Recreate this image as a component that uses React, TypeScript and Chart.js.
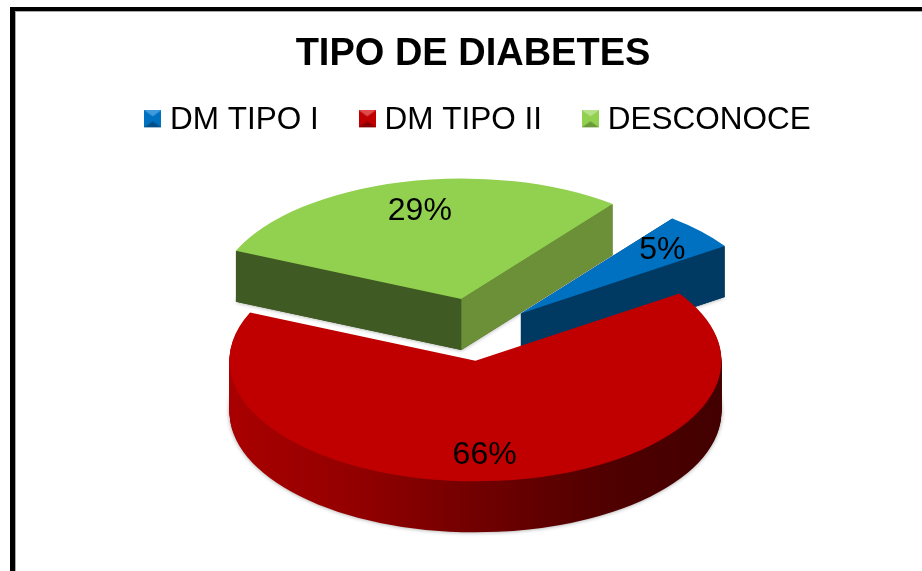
import { useEffect, useRef } from "react";
import { Chart, registerables } from "chart.js";

Chart.register(...registerables);

const categories = ["DM TIPO I", "DM TIPO II", "DESCONOCE"];
const values = [5, 66, 29];
const topColors = ["#0070c0", "#c00000", "#92d050"];
const sideColors = ["#003a63", "#7a0000", "#3f5a22"];
const rightWallColors = ["#003a63", "#5a0000", "#6b9038"];
const titleText = "TIPO DE DIABETES";

const SQUASH = 0.49;
const DEPTH = 51;
const EXPLODE = 60;
const RADIUS = 246;
const sliceNudge = [[7, 2], [0, 0], [6, -4]];
const labelNudge = [[3, 0], [-8, 2], [5, 2]];

function swatch(base: string, light: string, dark: string) {
  const c = document.createElement("canvas");
  c.width = 17;
  c.height = 20;
  const x = c.getContext("2d")!;
  x.fillStyle = base;
  x.fillRect(0, 0, 17, 17);
  x.fillStyle = light;
  x.beginPath();
  x.moveTo(0, 0); x.lineTo(17, 0); x.lineTo(8.5, 6); x.closePath();
  x.fill();
  x.fillStyle = dark;
  x.beginPath();
  x.moveTo(0, 17); x.lineTo(17, 17); x.lineTo(8.5, 11); x.closePath();
  x.fill();
  return c;
}

const pie3d = {
  id: "pie3d",
  afterLayout(chart: any) {
    chart.legend.left += 11;
    chart.legend.right += 11;
    chart.titleBlock.left += 3;
    chart.titleBlock.right += 3;
  },
  beforeDatasetsDraw(chart: any) {
    const arcs = chart.getDatasetMeta(0).data;
    const ctx = chart.ctx;
    const cy = (chart.chartArea.top + chart.chartArea.bottom) / 2;
    const rimGrad = ctx.createLinearGradient(230, 0, 722, 0);
    rimGrad.addColorStop(0, "#a80000");
    rimGrad.addColorStop(0.25, "#920000");
    rimGrad.addColorStop(0.5, "#700000");
    rimGrad.addColorStop(0.75, "#500000");
    rimGrad.addColorStop(1, "#420000");

    [2, 0, 1].forEach((i) => {
      const arc = arcs[i];
      const original = arc.options;
      const p = arc.getProps(["x", "y", "startAngle", "endAngle", "outerRadius"], true);
      const mid = (p.startAngle + p.endAngle) / 2;
      const ex = Math.cos(mid) * EXPLODE;
      const ey = Math.sin(mid) * EXPLODE;
      const [nx, ny] = sliceNudge[i];
      const ax = p.x + ex;
      const ay = p.y + ey;
      const toScreen = () => {
        ctx.translate(nx, cy + ny);
        ctx.scale(1, SQUASH);
        ctx.translate(ex, ey - cy);
      };
      arc.options = { ...original, backgroundColor: i === 1 ? rimGrad : sideColors[i] };
      for (let d = DEPTH; d >= 1; d -= 1) {
        ctx.save();
        if (d === DEPTH) {
          ctx.shadowColor = "rgba(0,0,0,0.4)";
          ctx.shadowBlur = 4;
        }
        ctx.translate(0, d);
        toScreen();
        arc.draw(ctx);
        ctx.restore();
      }
      if (i !== 1) {
        const sy = (v: number) => cy + ny + (v - cy) * SQUASH;
        const wall = (ang: number, color: string) => {
          const rx = ax + Math.cos(ang) * p.outerRadius;
          const ry = ay + Math.sin(ang) * p.outerRadius;
          ctx.fillStyle = color;
          ctx.beginPath();
          ctx.moveTo(ax + nx, sy(ay));
          ctx.lineTo(rx + nx, sy(ry));
          ctx.lineTo(rx + nx, sy(ry) + DEPTH);
          ctx.lineTo(ax + nx, sy(ay) + DEPTH);
          ctx.closePath();
          ctx.fill();
        };
        wall(p.startAngle, sideColors[i]);
        wall(p.endAngle, rightWallColors[i]);
      }
      arc.options = original;
      ctx.save();
      toScreen();
      arc.draw(ctx);
      ctx.restore();
    });
    return false;
  },
  afterDraw(chart: any) {
    const arcs = chart.getDatasetMeta(0).data;
    const ctx = chart.ctx;
    const cy = (chart.chartArea.top + chart.chartArea.bottom) / 2;
    ctx.save();
    ctx.font = "32px 'Liberation Sans'";
    ctx.fillStyle = "#000";
    ctx.textAlign = "center";
    ctx.textBaseline = "middle";
    arcs.forEach((arc: any, i: number) => {
      const p = arc.getProps(["x", "y", "startAngle", "endAngle", "outerRadius"], true);
      const mid = (p.startAngle + p.endAngle) / 2;
      const r = EXPLODE + p.outerRadius * 0.77;
      const lx = p.x + Math.cos(mid) * r + sliceNudge[i][0] + labelNudge[i][0];
      const ly = cy + (p.y + Math.sin(mid) * r - cy) * SQUASH + sliceNudge[i][1] + labelNudge[i][1];
      ctx.fillText(values[i] + "%", lx, ly);
    });
    ctx.restore();
  },
};

export default function App() {
  const ref = useRef<HTMLCanvasElement>(null);
  useEffect(() => {
    document.body.style.margin = "0";
    const icons = [
      swatch("#0070c0", "#3f9bdc", "#004f88"),
      swatch("#c00000", "#e04a4a", "#860000"),
      swatch("#92d050", "#b6e28a", "#6b9a3a"),
    ];
    const chart = new Chart(ref.current!, {
      type: "pie",
      data: {
        labels: categories,
        datasets: [
          {
            data: values,
            backgroundColor: topColors,
            borderWidth: 0,
          },
        ],
      },
      options: {
        responsive: false,
        animation: false,
        rotation: 38,
        radius: RADIUS,
        layout: { padding: { left: 18, right: 0, top: 0, bottom: 54 } },
        plugins: {
          tooltip: { enabled: false },
          title: {
            display: true,
            text: titleText,
            color: "#000",
            font: { family: "'Liberation Sans'", size: 38, weight: "bold" },
            padding: { top: 32, bottom: -20 },
          },
          legend: {
            position: "top",
            labels: {
              color: "#000",
              font: { family: "'Liberation Sans'", size: 31.5 },
              usePointStyle: true,
              pointStyleWidth: 3,
              generateLabels: () =>
                categories.map((text, i) => ({
                  text,
                  fillStyle: topColors[i],
                  strokeStyle: topColors[i],
                  lineWidth: 0,
                  hidden: false,
                  index: i,
                  pointStyle: icons[i],
                })) as any,
              padding: 47,
            },
          },
        },
      } as any,
      plugins: [pie3d as any],
    });
    return () => chart.destroy();
  }, []);
  return (
    <div style={{ position: "relative", width: 922, height: 571, overflow: "hidden", background: "#fff" }}>
      <canvas ref={ref} width={922} height={571} style={{ display: "block" }} />
      <div
        style={{
          position: "absolute",
          left: 10,
          top: 7,
          width: 930,
          height: 600,
          borderLeft: "5px solid #000",
          borderTop: "4px solid #000",
          boxShadow: "inset 1px 1px 0 #aaa",
          boxSizing: "border-box",
          pointerEvents: "none",
        }}
      />
    </div>
  );
}
